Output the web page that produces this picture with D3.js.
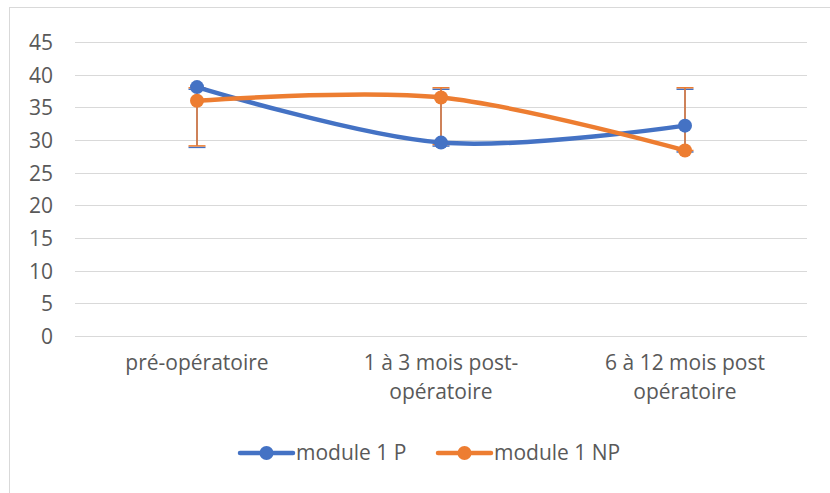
<!DOCTYPE html>
<html><head><meta charset="utf-8">
<script src="https://cdn.jsdelivr.net/npm/d3@7"></script>
<style>
html,body{margin:0;padding:0;background:#fff;}
text{font-family:"Open Sans",sans-serif;fill:#595959;}
</style></head>
<body><svg id="c" width="830" height="493"></svg>
<script>
const categories = [["pré-opératoire"], ["1 à 3 mois post-", "opératoire"], ["6 à 12 mois post", "opératoire"]];
const seriesNames = ["module 1 P", "module 1 NP"];
const seriesP = [38.1, 29.6, 32.2];
const seriesNP = [36.0, 36.5, 28.4];
const errLow = [29.1, 29.3, 28.4];
const errHigh = [38.0, 38.0, 38.0];
const yTicks = [0, 5, 10, 15, 20, 25, 30, 35, 40, 45];
const colors = ["#4472C4", "#ED7D31"];

const svg = d3.select("#c");
svg.append("rect").attr("x", 9.5).attr("y", 7.5).attr("width", 900).attr("height", 600)
  .attr("fill", "#fff").attr("stroke", "#d9d9d9").attr("stroke-width", 1);

const x = d3.scaleBand().domain(d3.range(categories.length)).range([75, 807]);
const y = d3.scaleLinear().domain([0, 45]).range([336, 42]);

const g = svg.append("g");
g.selectAll(".grid").data(yTicks).join("line")
  .attr("x1", 75).attr("x2", 807)
  .attr("y1", d => Math.round(y(d)) + 0.5).attr("y2", d => Math.round(y(d)) + 0.5)
  .attr("stroke", "#d9d9d9").attr("stroke-width", 1);

const yAxis = d3.axisLeft(y).tickValues(yTicks).tickSize(0).tickPadding(0);
const ya = svg.append("g").attr("transform", "translate(53,0)").call(yAxis);
ya.select(".domain").remove();
ya.selectAll("text").style("font-size", "21px").attr("fill", "#595959").attr("font-family", "Open Sans").attr("dy", "0.35em");

const xl = svg.append("g");
categories.forEach((lines, i) => {
  const t = xl.append("text").attr("x", x(i) + x.bandwidth() / 2).attr("y", 370)
    .attr("text-anchor", "middle").style("font-size", "21px");
  lines.forEach((l, j) => t.append("tspan").attr("x", x(i) + x.bandwidth() / 2).attr("y", 370 + j * 29).text(l));
});

const cx = i => x(i) + x.bandwidth() / 2;
const allSeries = [seriesP, seriesNP];

// error bars
allSeries.forEach((s, k) => {
  const eg = svg.append("g");
  s.forEach((v, i) => {
    eg.append("line").attr("x1", cx(i)).attr("x2", cx(i)).attr("y1", y(errLow[i])).attr("y2", y(errHigh[i]))
      .attr("stroke", colors[k]).attr("stroke-width", 1.5);
    [errLow[i], errHigh[i]].forEach(e => {
      eg.append("line").attr("x1", cx(i) - 8.5).attr("x2", cx(i) + 8.5)
        .attr("y1", y(e) + (k === 0 ? 1.5 : 0)).attr("y2", y(e) + (k === 0 ? 1.5 : 0))
        .attr("stroke", colors[k]).attr("stroke-width", 1.5);
    });
  });
});

const line = d3.line().x((d, i) => cx(i)).y(d => y(d)).curve(d3.curveCardinal.tension(0));
allSeries.forEach((s, k) => {
  svg.append("path").datum(s).attr("d", line).attr("fill", "none")
    .attr("stroke", colors[k]).attr("stroke-width", 4.5).attr("stroke-linecap", "round");
});
allSeries.forEach((s, k) => {
  svg.append("g").selectAll("circle").data(s).join("circle")
    .attr("cx", (d, i) => cx(i)).attr("cy", d => y(d)).attr("r", 7).attr("fill", colors[k]);
});

// legend
const lg = svg.append("g");
const legendX = [240, 438];
seriesNames.forEach((n, k) => {
  const lx = legendX[k];
  lg.append("line").attr("x1", lx).attr("x2", lx + 53).attr("y1", 453).attr("y2", 453)
    .attr("stroke", colors[k]).attr("stroke-width", 4.5).attr("stroke-linecap", "round");
  lg.append("circle").attr("cx", lx + 26.5).attr("cy", 453).attr("r", 7).attr("fill", colors[k]);
  lg.append("text").attr("x", lx + 56).attr("y", 453).attr("dy", "0.35em").style("font-size", "21px").text(n);
});
</script></body></html>
